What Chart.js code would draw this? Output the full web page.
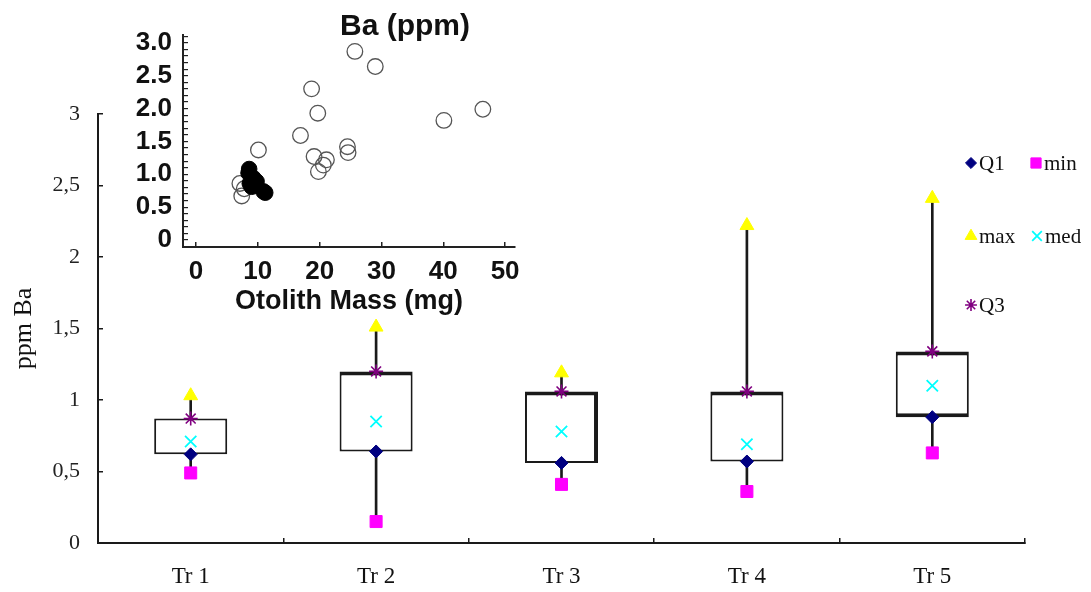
<!DOCTYPE html>
<html>
<head>
<meta charset="utf-8">
<script src="https://cdn.jsdelivr.net/npm/chart.js@4.4.1/dist/chart.umd.min.js"></script>
<style>
  html, body { margin: 0; padding: 0; background: #fff; }
  #wrap { position: relative; width: 1091px; height: 592px; overflow: hidden; }
  #main { position: absolute; left: 0; top: 0; }
  #inset { position: absolute; left: 120px; top: 0; }
</style>
</head>
<body>
<div id="wrap">
  <canvas id="main" width="1091" height="592"></canvas>
  <canvas id="inset" width="440" height="320"></canvas>
</div>
<script>
// main box plot
const categories = ['Tr 1', 'Tr 2', 'Tr 3', 'Tr 4', 'Tr 5'];
const minV = [0.49, 0.15, 0.41, 0.36, 0.63];
const q1   = [0.62, 0.64, 0.56, 0.57, 0.88];
const med  = [0.71, 0.85, 0.78, 0.69, 1.10];
const q3   = [0.87, 1.20, 1.06, 1.06, 1.34];
const maxV = [1.03, 1.51, 1.19, 2.22, 2.41];
const yTicks = [0, 0.5, 1, 1.5, 2, 2.5, 3];
const yTickLabels = ['0', '0,5', '1', '1,5', '2', '2,5', '3'];

// inset scatter (otolith mass vs Ba)
const openMass = [25.7, 29.0, 18.7, 19.7, 40.1, 46.4, 16.9, 10.1, 24.5, 24.6, 19.1, 21.1, 20.6, 19.8, 7.1, 7.4, 7.8];
const openBa   = [2.87, 2.64, 2.30, 1.93, 1.82, 1.99, 1.59, 1.37, 1.42, 1.33, 1.27, 1.22, 1.14, 1.04, 0.86, 0.67, 0.78];
const filledMass = [8.6, 8.5, 9.3, 9.8, 8.7, 9.0, 11.2, 10.9];
const filledBa   = [1.08, 1.02, 0.94, 0.89, 0.86, 0.81, 0.72, 0.74];
const insetYTicks = [0, 0.5, 1, 1.5, 2, 2.5, 3];
const insetYTickLabels = ['0', '0.5', '1.0', '1.5', '2.0', '2.5', '3.0'];
const insetXTickLabels = ['0', '10', '20', '30', '40', '50'];

const serif = "'Liberation Serif', 'Times New Roman', serif";
const sans = "'Liberation Sans', Arial, sans-serif";
const ink = '#1a1a1a';

const styles = {
  Q1:  { pointStyle: 'rectRot',  color: '#000080', radius: 6.5, width: 1 },
  min: { pointStyle: 'rect',     color: '#ff00ff', radius: 8.5, width: 1 },
  max: { pointStyle: 'triangle', color: '#ffff00', radius: 8,   width: 1 },
  med: { pointStyle: 'crossRot', color: '#00ffff', radius: 8,   width: 1.8 },
  Q3:  { pointStyle: 'star',     color: '#800080', radius: 7,   width: 1.6 }
};

// heavier edges seen on some boxes of the original
const boxEdges = [
  { top: 2, bottom: 2, left: 2, right: 2 },
  { top: 4, bottom: 2, left: 2, right: 2 },
  { top: 4, bottom: 2, left: 2, right: 4 },
  { top: 4, bottom: 2, left: 2, right: 2 },
  { top: 4, bottom: 4, left: 2, right: 2 }
];

function marker(label, values, order) {
  const s = styles[label];
  return {
    type: 'line',
    label: label,
    data: values,
    showLine: false,
    pointStyle: s.pointStyle,
    pointRadius: s.radius,
    pointHoverRadius: s.radius,
    pointBackgroundColor: s.color,
    pointBorderColor: s.color,
    pointBorderWidth: s.width,
    order: order
  };
}

// legend laid out like the original two-column key
const legendItems = [
  { label: 'Q1',  x: 971,  y: 163 },
  { label: 'min', x: 1036, y: 163 },
  { label: 'max', x: 971,  y: 236 },
  { label: 'med', x: 1037, y: 236 },
  { label: 'Q3',  x: 971,  y: 305 }
];

const keyPlugin = {
  id: 'key',
  afterDraw(chart) {
    const ctx = chart.ctx;
    ctx.save();
    legendItems.forEach(item => {
      const s = styles[item.label];
      ctx.fillStyle = s.color;
      ctx.strokeStyle = s.color;
      ctx.lineWidth = s.width;
      Chart.helpers.drawPoint(ctx, { pointStyle: s.pointStyle, radius: s.radius * 0.85, rotation: 0, borderWidth: s.width }, item.x, item.y);
      ctx.fillStyle = '#111';
      ctx.font = '21px ' + serif;
      ctx.textAlign = 'left';
      ctx.textBaseline = 'middle';
      ctx.fillText(item.label, item.x + 8, item.y + 1);
    });
    ctx.restore();
  }
};

new Chart(document.getElementById('main'), {
  type: 'bar',
  data: {
    labels: categories,
    datasets: [
      {
        type: 'bar',
        label: 'range',
        data: categories.map((c, i) => [minV[i], maxV[i]]),
        backgroundColor: ink,
        borderWidth: 0,
        barThickness: 2,
        grouped: false,
        order: 10
      },
      {
        type: 'bar',
        label: 'box',
        data: categories.map((c, i) => [q1[i], q3[i]]),
        backgroundColor: '#fff',
        borderColor: ink,
        borderWidth: ctx => boxEdges[ctx.dataIndex] || 2,
        borderSkipped: false,
        barPercentage: 0.394,
        categoryPercentage: 1,
        grouped: false,
        order: 9
      },
      marker('min', minV, 5),
      marker('Q1', q1, 4),
      marker('med', med, 3),
      marker('Q3', q3, 2),
      marker('max', maxV, 1)
    ]
  },
  options: {
    responsive: false,
    animation: false,
    layout: { padding: { top: 114, right: 66, left: 0, bottom: 0 } },
    plugins: { legend: { display: false }, tooltip: { enabled: false } },
    scales: {
      x: {
        grid: { drawOnChartArea: false, tickLength: -5, color: ink, lineWidth: 1.5 },
        border: { color: ink, width: 2 },
        ticks: { font: { family: serif, size: 23 }, color: '#111', padding: 25 },
        afterFit: s => { s.height = 49; }
      },
      y: {
        min: 0,
        max: 3,
        grid: { drawOnChartArea: false, tickLength: -5, color: ink, lineWidth: 1.5 },
        border: { color: ink, width: 2 },
        ticks: {
          stepSize: 0.5,
          font: { family: serif, size: 22 },
          color: '#222',
          padding: 23,
          callback: v => {
            const i = yTicks.findIndex(t => Math.abs(t - v) < 1e-6);
            return i >= 0 ? yTickLabels[i] : '';
          }
        },
        title: { display: true, text: 'ppm Ba', font: { family: serif, size: 26 }, color: '#111', padding: { top: 9 } },
        afterFit: s => { s.width = 98; }
      }
    }
  },
  plugins: [keyPlugin]
});

const insetTitle = {
  id: 'insetTitle',
  afterDraw(chart) {
    const ctx = chart.ctx;
    ctx.save();
    ctx.font = 'bold 30px ' + sans;
    ctx.fillStyle = '#111';
    ctx.textAlign = 'center';
    ctx.textBaseline = 'middle';
    ctx.fillText('Ba (ppm)', 285, 27);
    ctx.restore();
  }
};

new Chart(document.getElementById('inset'), {
  type: 'scatter',
  data: {
    datasets: [
      {
        label: 'open',
        data: openMass.map((m, i) => ({ x: m, y: openBa[i] })),
        pointRadius: 7.8,
        pointBackgroundColor: 'rgba(255,255,255,0)',
        pointBorderColor: '#555',
        pointBorderWidth: 1.3,
        order: 2
      },
      {
        label: 'filled',
        data: filledMass.map((m, i) => ({ x: m, y: filledBa[i] })),
        pointRadius: 7.8,
        pointBackgroundColor: '#000',
        pointBorderColor: '#000',
        pointBorderWidth: 1,
        order: 1
      }
    ]
  },
  options: {
    responsive: false,
    animation: false,
    layout: { padding: { top: 35, right: 45, left: 0, bottom: 0 } },
    plugins: { legend: { display: false }, tooltip: { enabled: false } },
    scales: {
      x: {
        type: 'linear',
        min: -2.1,
        max: 51.6,
        grid: { drawOnChartArea: false, tickLength: -5, color: '#222', lineWidth: 1.5 },
        border: { color: '#222', width: 2 },
        ticks: {
          stepSize: 10,
          includeBounds: false,
          autoSkip: false,
          font: { family: sans, size: 26, weight: 'bold' },
          color: '#111',
          padding: 14,
          callback: v => {
            const i = Math.round(v / 10);
            return Math.abs(v - i * 10) < 1e-6 && insetXTickLabels[i] ? insetXTickLabels[i] : '';
          }
        },
        title: { display: true, text: 'Otolith Mass (mg)', font: { family: sans, size: 27, weight: 'bold' }, color: '#111', padding: { bottom: 2 } },
        afterFit: s => { s.height = 73; }
      },
      y: {
        min: -0.107,
        max: 3.12,
        grid: { drawOnChartArea: false, tickLength: -5, color: '#222', lineWidth: 1.2 },
        border: { color: '#222', width: 2 },
        ticks: {
          stepSize: 0.1,
          includeBounds: false,
          autoSkip: false,
          font: { family: sans, size: 26, weight: 'bold' },
          color: '#111',
          padding: 16,
          callback: v => {
            const i = insetYTicks.findIndex(t => Math.abs(t - v) < 1e-6);
            return i >= 0 ? insetYTickLabels[i] : '';
          }
        },
        afterFit: s => { s.width = 63; }
      }
    }
  },
  plugins: [insetTitle]
});
</script>
</body>
</html>
